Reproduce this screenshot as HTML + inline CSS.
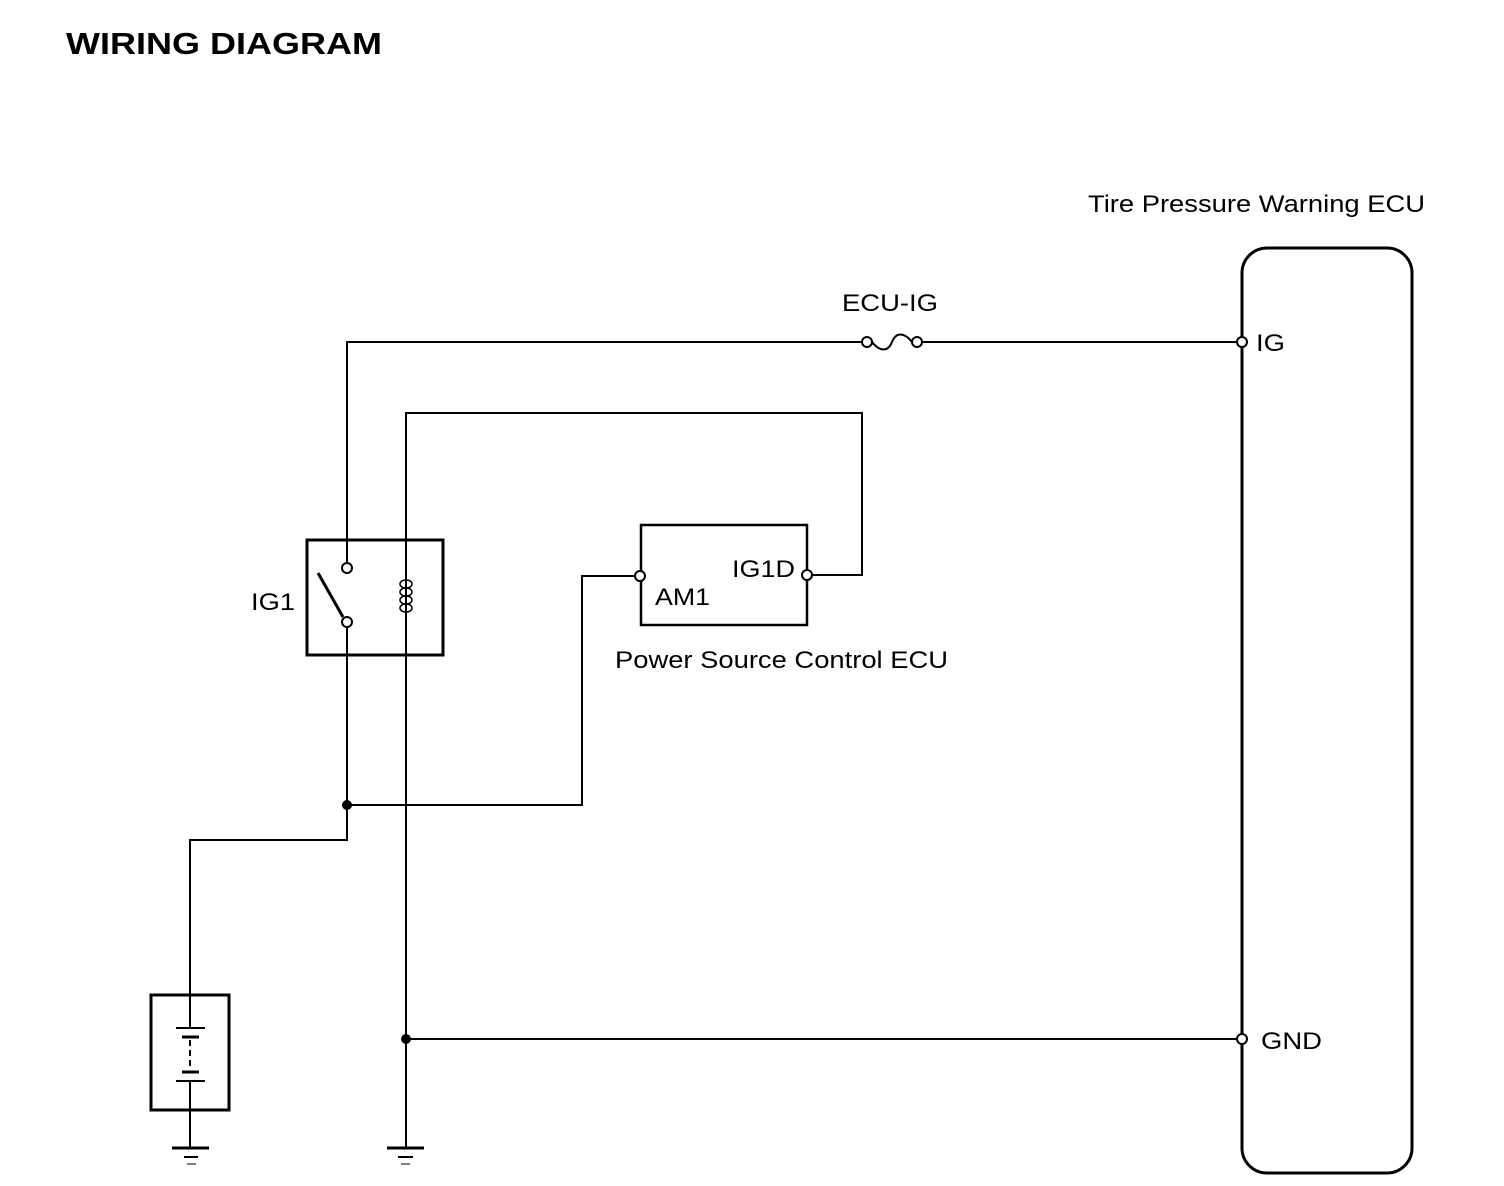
<!DOCTYPE html>
<html><head><style>body{margin:0;background:#fff}svg{display:block}text{font-family:"Liberation Sans",sans-serif;fill:#000}</style></head><body>
<svg width="1504" height="1186" viewBox="0 0 1504 1186" xmlns="http://www.w3.org/2000/svg">
<text x="66" y="54" font-size="31" font-weight="bold" textLength="316" lengthAdjust="spacingAndGlyphs">WIRING DIAGRAM</text>
<text x="1088" y="212" font-size="24" textLength="337" lengthAdjust="spacingAndGlyphs">Tire Pressure Warning ECU</text>
<text x="842" y="311" font-size="24" textLength="96" lengthAdjust="spacingAndGlyphs">ECU-IG</text>
<text x="1256" y="351" font-size="24" textLength="29" lengthAdjust="spacingAndGlyphs">IG</text>
<text x="1261" y="1049" font-size="24" textLength="61" lengthAdjust="spacingAndGlyphs">GND</text>
<text x="251" y="610" font-size="24" textLength="44" lengthAdjust="spacingAndGlyphs">IG1</text>
<text x="732" y="577" font-size="24" textLength="63" lengthAdjust="spacingAndGlyphs">IG1D</text>
<text x="655" y="605" font-size="24" textLength="55" lengthAdjust="spacingAndGlyphs">AM1</text>
<text x="615" y="668" font-size="24" textLength="333" lengthAdjust="spacingAndGlyphs">Power Source Control ECU</text>
<g fill="none" stroke="#000" stroke-width="2">
<rect x="1242" y="248" width="170" height="925" rx="25" stroke-width="3"/>
<rect x="307" y="540" width="136" height="115" stroke-width="3"/>
<rect x="641" y="525" width="166" height="100" stroke-width="2.5"/>
<rect x="151" y="995" width="78" height="115" stroke-width="3"/>
<polyline points="347,563 347,342 862,342"/>
<polyline points="922,342 1237,342"/>
<path d="M872,342 C880,352 888,352 892,342 C896,332 904,332 912,342"/>
<circle cx="867" cy="342" r="5"/><circle cx="917" cy="342" r="5"/>
<circle cx="1242" cy="342" r="5" fill="#fff"/>
<polyline points="406,1147 406,413 862,413 862,575 812,575"/>
<circle cx="807" cy="575" r="5" fill="#fff"/>
<circle cx="347" cy="568" r="5"/><circle cx="347" cy="622" r="5"/>
<line x1="318" y1="573" x2="343" y2="617" stroke-width="3"/>
<polyline points="347,627 347,840 190,840 190,995"/>
<polyline points="347,805 582,805 582,576 635,576"/>
<circle cx="640" cy="576" r="5" fill="#fff"/>
<line x1="406" y1="1039" x2="1237" y2="1039"/>
<circle cx="1242" cy="1039" r="5" fill="#fff"/>
<path d="M406,580 C414,580 414,588 406,588 C398,588 398,580 406,580 C414,580 414,588 406,588 C414,588 414,596 406,596 C398,596 398,588 406,588 C414,588 414,596 406,596 C414,596 414,604 406,604 C398,604 398,596 406,596 C414,596 414,604 406,604 C414,604 414,612 406,612 C398,612 398,604 406,604 C414,604 414,612 406,612" stroke-width="1.5"/>
<line x1="190" y1="1110" x2="190" y2="1147"/>
<line x1="190" y1="995" x2="190" y2="1028"/>
<line x1="190" y1="1081" x2="190" y2="1110"/>
<line x1="190" y1="1040" x2="190" y2="1070" stroke-dasharray="6,4"/>
<line x1="176" y1="1028" x2="205" y2="1028"/>
<line x1="182" y1="1037" x2="199" y2="1037" stroke-width="3"/>
<line x1="182" y1="1072" x2="199" y2="1072" stroke-width="3"/>
<line x1="176" y1="1081" x2="205" y2="1081"/>
<g stroke-width="3"><line x1="172" y1="1148" x2="209" y2="1148"/><line x1="387" y1="1148" x2="424" y2="1148"/></g>
<line x1="184" y1="1157" x2="198" y2="1157"/><line x1="187" y1="1164" x2="196" y2="1164" stroke-width="1"/>
<line x1="398" y1="1157" x2="413" y2="1157"/><line x1="401" y1="1164" x2="410" y2="1164" stroke-width="1"/>
</g>
<circle cx="347" cy="805" r="5"/><circle cx="406" cy="1039" r="5"/>
</svg>
</body></html>
